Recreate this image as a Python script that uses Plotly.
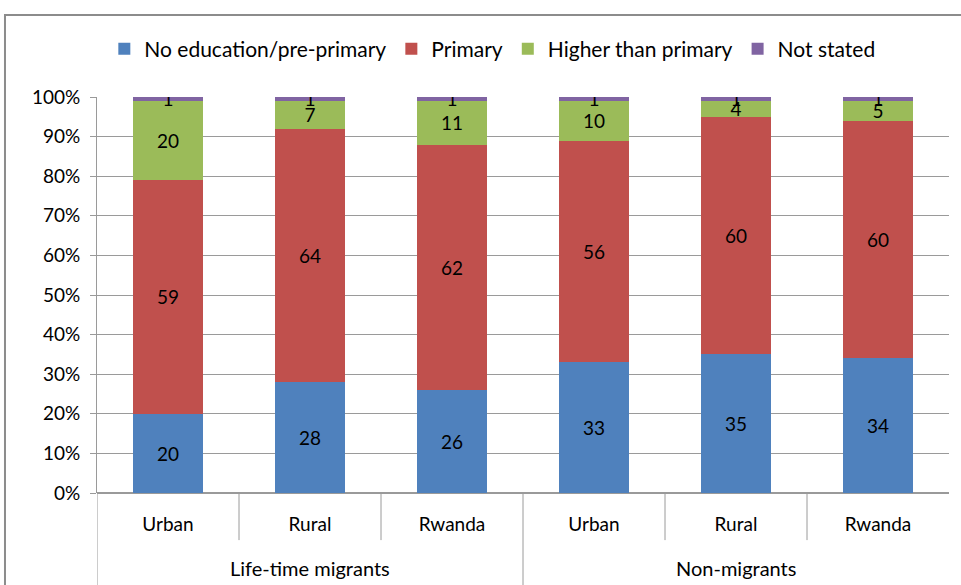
"""Educational attainment of life-time migrants and non-migrants, Rwanda."""

import plotly.graph_objects as go

groups = ["Life-time migrants", "Non-migrants"]
areas = ["Urban", "Rural", "Rwanda", "Urban", "Rural", "Rwanda"]

no_education = [20, 28, 26, 33, 35, 34]
primary = [59, 64, 62, 56, 60, 60]
higher = [20, 7, 11, 10, 4, 5]
not_stated = [1, 1, 1, 1, 1, 1]

series = [
    ("No education/pre-primary", no_education, "#4F81BD"),
    ("Primary", primary, "#C0504D"),
    ("Higher than primary", higher, "#9BBB59"),
    ("Not stated", not_stated, "#8064A2"),
]

FONT = "Lato"
GRID = "#9A9A9A"

x_pos = list(range(len(areas)))


def main() -> None:
    fig = go.Figure()

    # shares of each bar total, drawn as percent of 100
    totals = [sum(v) for v in zip(no_education, primary, higher, not_stated)]
    for name, values, color in series:
        shares = [v / t for v, t in zip(values, totals)]
        fig.add_trace(
            go.Bar(
                x=x_pos,
                y=shares,
                name=name,
                marker={"color": color, "line": {"width": 0}},
                width=0.49,
                text=[str(v) for v in values],
                textposition="inside",
                insidetextanchor="middle",
                textangle=0,
                constraintext="none",
                textfont={"family": FONT, "size": 19, "color": "black"},
                hoverinfo="name+y",
            ),
        )

    # category dividers under the axis
    shapes = []
    for i in range(1, len(areas)):
        full = i == 3
        shapes.append(
            {
                "type": "line",
                "xref": "x",
                "yref": "paper",
                "x0": i - 0.5,
                "x1": i - 0.5,
                "y0": 0,
                "y1": -0.235 if full else -0.119,
                "line": {"color": GRID, "width": 1},
            },
        )
    shapes.append(
        {
            "type": "line",
            "xref": "x",
            "yref": "paper",
            "x0": -0.5,
            "x1": -0.5,
            "y0": 0,
            "y1": -0.235,
            "line": {"color": GRID, "width": 1},
        },
    )
    # chart frame
    shapes.append(
        {
            "type": "rect",
            "xref": "paper",
            "yref": "paper",
            "x0": -0.108,
            "x1": 1.03,
            "y0": -0.3,
            "y1": 1.207,
            "line": {"color": "#8C8C8C", "width": 2},
        },
    )

    annotations = []
    for k, g in enumerate(groups):
        annotations.append(
            {
                "text": g,
                "x": 1 + 3 * k,
                "xref": "x",
                "y": -0.19,
                "yref": "paper",
                "showarrow": False,
                "yanchor": "middle",
                "font": {"family": FONT, "size": 20, "color": "black"},
            },
        )

    fig.update_layout(
        barmode="stack",
        width=961,
        height=585,
        margin={"l": 97, "r": 12, "t": 97, "b": 92},
        paper_bgcolor="white",
        plot_bgcolor="white",
        font={"family": FONT, "size": 19, "color": "black"},
        shapes=shapes,
        annotations=annotations,
        showlegend=True,
        legend={
            "orientation": "h",
            "traceorder": "normal",
            "x": 0.464,
            "xanchor": "center",
            "y": 1.121,
            "yanchor": "middle",
            "font": {"family": FONT, "size": 21},
            "itemclick": False,
        },
        xaxis={
            "range": [-0.5, 5.5],
            "tickmode": "array",
            "tickvals": x_pos,
            "ticktext": areas,
            "showgrid": False,
            "ticks": "",
            "showline": False,
            "zeroline": False,
            "tickfont": {"family": FONT, "size": 19},
            "ticklabelstandoff": 18,
        },
        yaxis={
            "range": [0, 1],
            "tickformat": ".0%",
            "dtick": 0.1,
            "showgrid": True,
            "gridcolor": GRID,
            "gridwidth": 1,
            "showline": True,
            "linecolor": GRID,
            "ticks": "outside",
            "ticklen": 6,
            "tickcolor": GRID,
            "zeroline": True,
            "zerolinecolor": GRID,
            "tickfont": {"family": FONT, "size": 19},
            "ticklabelstandoff": 6,
        },
    )

    fig.write_html(
        "out.html",
        config={"displayModeBar": False},
        post_script="document.body.style.margin='0';",
    )


if __name__ == "__main__":
    main()
